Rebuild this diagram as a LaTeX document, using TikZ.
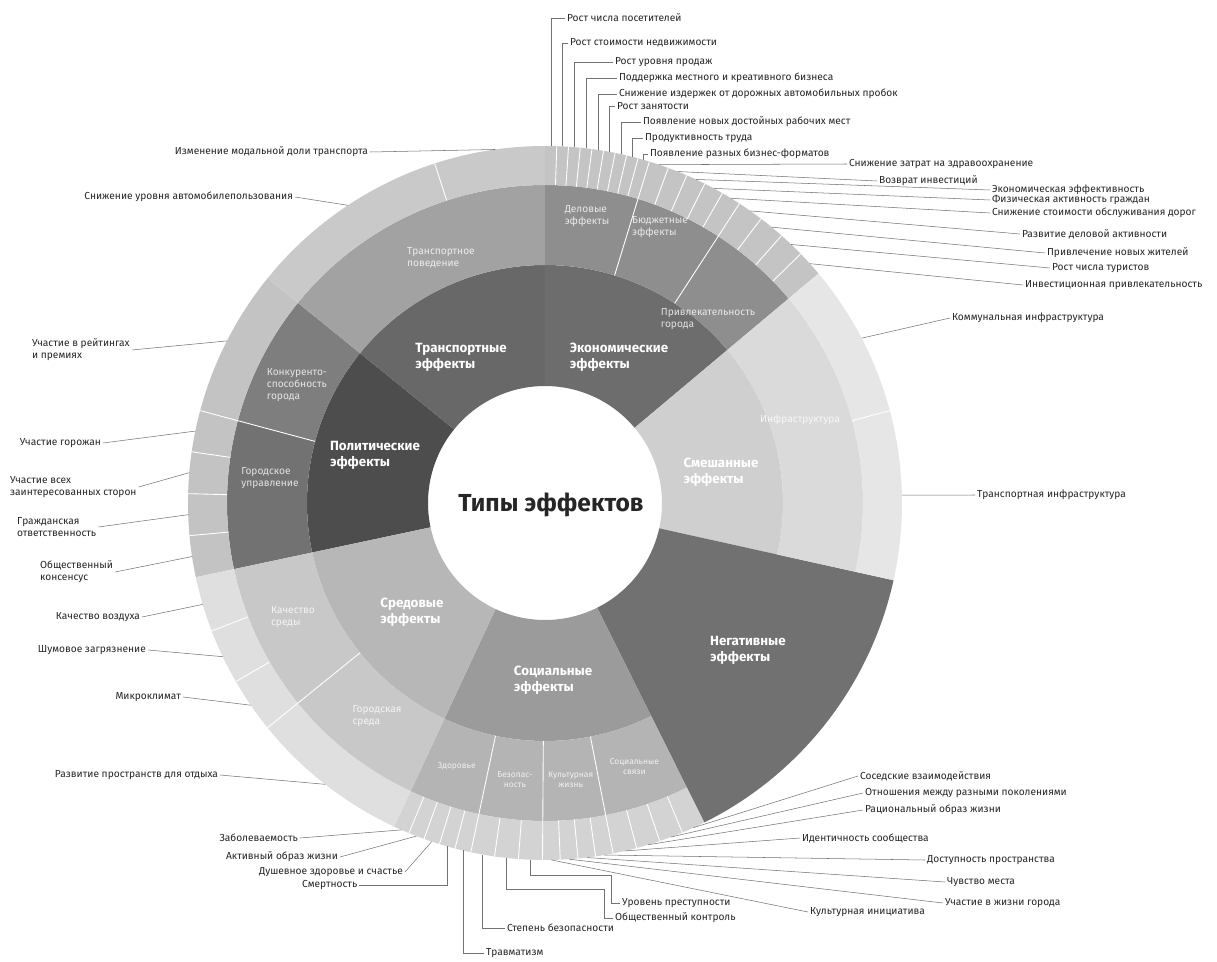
\documentclass[tikz,border=0pt]{standalone}
\usepackage{fontspec}
\setmainfont{Fira Sans}
\usepackage{xcolor}
\definecolor{polit}{HTML}{4D4D4D}
\definecolor{trans}{HTML}{686868}
\definecolor{econ}{HTML}{6D6D6D}
\definecolor{mixed}{HTML}{CFCFCF}
\definecolor{negat}{HTML}{717171}
\definecolor{social}{HTML}{9B9B9B}
\definecolor{envir}{HTML}{B7B7B7}
\definecolor{konk}{HTML}{7E7E7E}
\definecolor{gorod}{HTML}{727272}
\definecolor{transb}{HTML}{A2A2A2}
\definecolor{econb}{HTML}{8E8E8E}
\definecolor{mixedb}{HTML}{DADADA}
\definecolor{socialb}{HTML}{B4B4B4}
\definecolor{envirb}{HTML}{C8C8C8}
\definecolor{transc}{HTML}{C9C9C9}
\definecolor{econc}{HTML}{C4C4C4}
\definecolor{politc}{HTML}{C3C3C3}
\definecolor{envirc}{HTML}{DFDFDF}
\definecolor{socialc}{HTML}{D3D3D3}
\definecolor{mixedc}{HTML}{E6E6E6}
\tikzset{
    leaf-label/.style = {font=\fontsize{5.8}{6.8}\selectfont, text=black!85, inner sep=1pt},
    leaf-block/.style = {leaf-label, align=left},
    sub-label/.style = {font=\fontsize{5.8}{6.8}\selectfont, text=white, text opacity=0.8, align=left},
    small-sub/.style = {font=\fontsize{4.8}{5.6}\selectfont, text=white, text opacity=0.8, align=center, inner sep=0pt},
    cat-label/.style = {font=\fontsize{7.6}{9}\bfseries\selectfont, text=white, align=left},
    title-label/.style = {font=\fontsize{14}{16}\bfseries\selectfont, text=black!85},
    leader-line/.style = {draw=black!55, line width=0.3pt},
    sep-line/.style = {draw=white, line width=0.5pt},
}
% color, inner radius, outer radius, start angle, end angle
\newcommand{\ringpart}[5]{%
  \fill[#1] (#4:#2) arc[start angle=#4, end angle=#5, radius=#2] -- (#5:#3) arc[start angle=#5, end angle=#4, radius=#3] -- cycle;}

\begin{document}
\begin{tikzpicture}[x=0.02cm, y=0.02cm]
\useasboundingbox (-545,-458) rectangle (672,503);
\fill[white] (-545,-458) rectangle (672,503);

% inner ring
\ringpart{polit}{117}{238}{141}{192}
\ringpart{trans}{117}{238}{90}{141}
\ringpart{econ}{117}{238}{40}{90}
\ringpart{mixed}{117}{238}{-12.5}{40}
\ringpart{negat}{117}{357}{-63.5}{-12.5}
\ringpart{social}{117}{238}{-115}{-63.5}
\ringpart{envir}{117}{238}{192}{245}

% middle ring
\ringpart{konk}{238}{318}{141}{165}
\ringpart{gorod}{238}{318}{165}{192}
\ringpart{transb}{238}{318}{90}{141}
\ringpart{econb}{238}{318}{40}{90}
\ringpart{mixedb}{238}{318}{-12.5}{40}
\ringpart{socialb}{238}{318}{-115}{-63.5}
\ringpart{envirb}{238}{318}{192}{245}

% outer ring
\ringpart{politc}{318}{357}{141}{192}
\ringpart{transc}{318}{357}{90}{141}
\ringpart{econc}{318}{357}{40}{90}
\ringpart{mixedc}{318}{357}{-12.5}{40}
\ringpart{socialc}{318}{357}{-115}{-63.5}
\ringpart{envirc}{318}{357}{192}{245}

% separators
\foreach \a in {165,73,57,219,-79,-90.4,-102}
    \draw[sep-line] (\a:238) -- (\a:357);
\foreach \a in {108,88.11,86.22,84.33,82.44,80.56,78.67,76.78,74.89,69.8,66.6,63.4,60.2,52.75,48.5,44.25,15,
                -67.375,-71.25,-75.125,-81.85,-84.7,-87.55,-94.27,-98.13,-104.6,-107.2,-109.8,-112.4,
                201,210,171.75,178.5,185.25}
    \draw[sep-line] (\a:318) -- (\a:357);

% labels of the rings
\node[title-label] (title) at (6,-2) {Типы эффектов};
\node[cat-label] (c-trans) at (-84,146) {Транспортные\\эффекты};
\node[cat-label] (c-econ) at (74,146) {Экономические\\эффекты};
\node[cat-label] (c-polit) at (-170,48) {Политические\\эффекты};
\node[cat-label] (c-mixed) at (176,31) {Смешанные\\эффекты};
\node[cat-label] (c-negat) at (203,-147) {Негативные\\эффекты};
\node[cat-label] (c-envir) at (-133,-109) {Средовые\\эффекты};
\node[cat-label] (c-social) at (8,-177) {Социальные\\эффекты};

\node[sub-label] (s-trans) at (-104,245) {Транспортное\\поведение};
\node[sub-label] (s-del) at (42,287) {Деловые\\эффекты};
\node[sub-label] (s-budg) at (115,276) {Бюджетные\\эффекты};
\node[sub-label] (s-attr) at (163,184) {Привлекательность\\города};
\node[sub-label] (s-konk) at (-248,118) {Конкуренто-\\способность\\города};
\node[sub-label] (s-gorod) at (-275,25) {Городское\\управление};
\node[sub-label] (s-env1) at (-252,-114) {Качество\\среды};
\node[sub-label] (s-env2) at (-168,-213) {Городская\\среда};
\node[sub-label] (s-mixed) at (255,83) {Инфраструктура};
\node[small-sub] (s-soc1) at (-108.5:278) {Здоровье};
\node[small-sub] (s-soc2) at (-96.2:278) {Безопас-\\ность};
\node[small-sub] (s-soc3) at (-84.7:278) {Культурная\\жизнь};
\node[small-sub] (s-soc4) at (-71.25:278) {Социальные\\связи};

% leaves on top
\foreach \n/\ang/\pos/\lab in {
    1/89.06/{20,485}/{Рост числа посетителей},
    2/87.17/{23,460}/{Рост стоимости недвижимости},
    3/85.28/{68,441}/{Рост уровня продаж},
    4/83.39/{72,425}/{Поддержка местного и креативного бизнеса},
    5/81.5/{72,409}/{Снижение издержек от дорожных автомобильных пробок},
    6/79.61/{70,397}/{Рост занятости},
    7/77.72/{96,381}/{Появление новых достойных рабочих мест},
    8/75.83/{98,365}/{Продуктивность труда},
    9/73.94/{103,349}/{Появление разных бизнес-форматов}}{
    \coordinate (pt\n) at (\ang:357);
    \node[leaf-label, anchor=west] (lt\n) at (\pos) {\lab};
    \draw[leader-line] (pt\n) |- (lt\n.west);
}

% leaves on the right
\foreach \n/\ang/\pos/\lab in {
    10/71.4/{302,339}/{Снижение затрат на здравоохранение},
    11/68.2/{332,322}/{Возврат инвестиций},
    12/65/{445,313}/{Экономическая эффективность},
    13/61.8/{445,303}/{Физическая активность граждан},
    14/58.6/{445,290}/{Снижение стоимости обслуживания дорог},
    15/54.9/{475,269}/{Развитие деловой активности},
    16/50.6/{500,250}/{Привлечение новых жителей},
    17/46.4/{505,235}/{Рост числа туристов},
    18/42.1/{478,218}/{Инвестиционная привлекательность},
    19/27.5/{405,185}/{Коммунальная инфраструктура},
    20/1.25/{430,8}/{Транспортная инфраструктура}}{
    \coordinate (pr\n) at (\ang:357);
    \node[leaf-label, anchor=west] (lr\n) at (\pos) {\lab};
    \draw[leader-line] (pr\n) -- (lr\n.west);
}

% leaves on the left
\foreach \n/\ang/\pos/\lab in {
    21/98/{-175,351}/{Изменение модальной доли транспорта},
    22/123.5/{-250,306}/{Снижение уровня автомобилепользования},
    24/168.375/{-442,60}/{Участие горожан},
    28/196.5/{-403,-114}/{Качество воздуха},
    29/205.5/{-397,-147}/{Шумовое загрязнение},
    30/214.5/{-362,-194}/{Микроклимат},
    31/232/{-325,-272}/{Развитие пространств для отдыха},
    32/-113.7/{-245,-335}/{Заболеваемость},
    33/-111.1/{-205,-354}/{Активный образ жизни},
    34/-108.5/{-140,-369}/{Душевное здоровье и счастье}}{
    \coordinate (pl\n) at (\ang:357);
    \node[leaf-label, anchor=east] (ll\n) at (\pos) {\lab};
    \draw[leader-line] (ll\n.east) -- (pl\n);
}
\foreach \n/\ang/\pos/\lab in {
    23/153/{-515,153}/{Участие в рейтингах\\и премиях},
    25/175.125/{-537,16}/{Участие всех\\заинтересованных сторон},
    26/181.875/{-530,-24}/{Гражданская\\ответственность},
    27/188.625/{-507,-69}/{Общественный\\консенсус}}{
    \coordinate (pl\n) at (\ang:357);
    \node[leaf-block, anchor=west] (ll\n) at (\pos) {\lab};
    \draw[leader-line] (ll\n.east) -- (pl\n);
}

% leaves at the bottom
\coordinate (pb35) at (-105.9:357);
\node[leaf-label, anchor=west] (lb35) at (-245,-382) {Смертность};
\draw[leader-line] (lb35.east) -| (pb35);
\foreach \n/\ang/\pos/\lab in {
    36/-103.3/{-61,-450}/{Травматизм},
    37/-100.07/{-40,-425}/{Степень безопасности}}{
    \coordinate (pb\n) at (\ang:357);
    \node[leaf-label, anchor=west] (lb\n) at (\pos) {\lab};
    \draw[leader-line] (pb\n) |- (lb\n.west);
}
\coordinate (pb39) at (-96.2:357);
\node[leaf-label, anchor=west] (lb39) at (68,-415) {Общественный контроль};
\draw[leader-line] (pb39) -- ++(0,-31) -| ([xshift=-5]lb39.west) -- (lb39.west);
\coordinate (pb38) at (-92.33:357);
\node[leaf-label, anchor=west] (lb38) at (75,-400) {Уровень преступности};
\draw[leader-line] (pb38) -- ++(0,-16) -| ([xshift=-5]lb38.west) -- (lb38.west);

\foreach \n/\ang/\pos/\lab in {
    40/-88.97/{263,-409}/{Культурная инициатива},
    41/-86.12/{398,-400}/{Участие в жизни города},
    42/-83.27/{400,-379}/{Чувство места},
    43/-80.42/{380,-357}/{Доступность пространства},
    44/-77.06/{255,-335}/{Идентичность сообщества},
    45/-73.19/{318,-307}/{Рациональный образ жизни},
    46/-69.31/{318,-290}/{Отношения между разными поколениями},
    47/-65.44/{313,-273}/{Соседские взаимодействия}}{
    \coordinate (pb\n) at (\ang:357);
    \node[leaf-label, anchor=west] (lb\n) at (\pos) {\lab};
    \draw[leader-line] (pb\n) -- (lb\n.west);
}
\end{tikzpicture}
\end{document}
